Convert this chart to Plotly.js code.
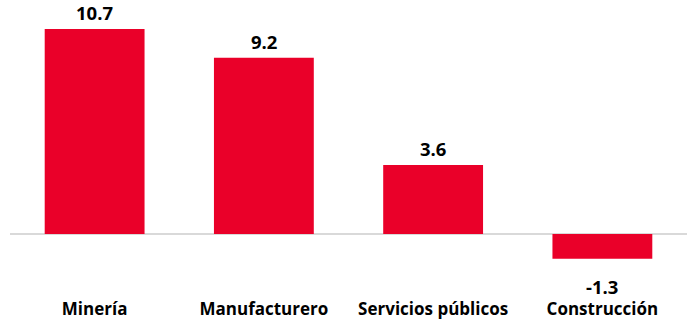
<!DOCTYPE html>
<html>
<head>
<meta charset="utf-8">
<script src="https://cdn.plot.ly/plotly-3.0.1.min.js"></script>
<style>html,body{margin:0;padding:0;background:#fff;}#chart{width:693px;height:325px;}</style>
</head>
<body>
<div id="chart"></div>
<script>
const categories = ["Minería", "Manufacturero", "Servicios públicos", "Construcción"];
const values = [10.7, 9.2, 3.6, -1.3];
const valueLabels = ["10.7", "9.2", "3.6", "-1.3"];

const barColor = "#EA0029";
const fontFam = "'Open Sans', sans-serif";

const annotations = categories.map((c, i) => ({
  x: c, y: values[i], xref: "x", yref: "y",
  text: "<b>" + valueLabels[i] + "</b>",
  showarrow: false,
  yanchor: values[i] >= 0 ? "bottom" : "top",
  yshift: values[i] >= 0 ? 2 : -13,
  font: {family: fontFam, size: 18.5, color: "#000", weight: 700}
}));

Plotly.newPlot("chart", [{
  type: "bar",
  x: categories,
  y: values,
  marker: {color: barColor},
  hoverinfo: "skip"
}], {
  width: 693, height: 325,
  margin: {l: 10, r: 6, t: 10, b: 28},
  paper_bgcolor: "#fff", plot_bgcolor: "#fff",
  bargap: 0.41,
  showlegend: false,
  xaxis: {
    type: "category",
    showline: false, showgrid: false, zeroline: false, ticks: "",
    tickfont: {family: fontFam, size: 17, color: "#000", weight: 700}
  },
  yaxis: {
    range: [-3.29, 11.69],
    showticklabels: false, showgrid: false, showline: false,
    zeroline: true, zerolinecolor: "#d9d9d9", zerolinewidth: 1.5
  },
  annotations: annotations
}, {staticPlot: true, displayModeBar: false});
</script>
</body>
</html>
